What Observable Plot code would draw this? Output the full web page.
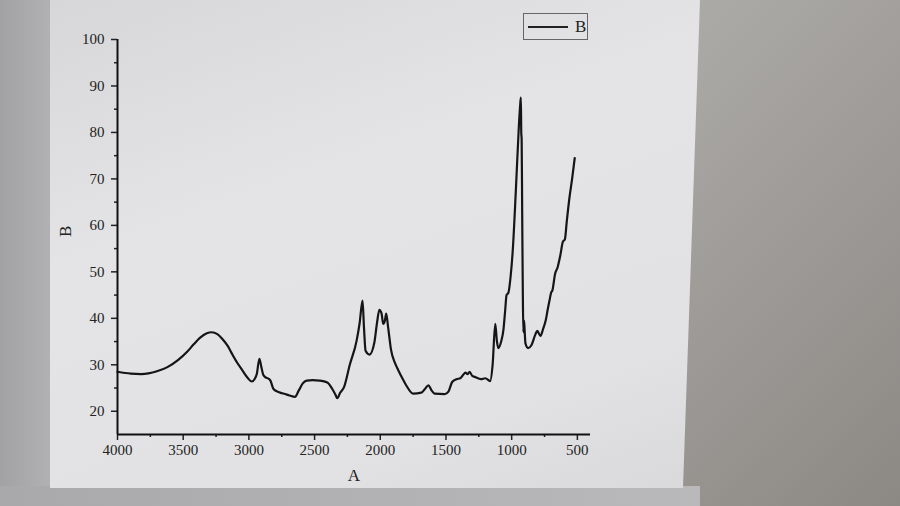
<!DOCTYPE html>
<html>
<head>
<meta charset="utf-8">
<script src="https://cdn.jsdelivr.net/npm/d3@7"></script>
<script src="https://cdn.jsdelivr.net/npm/@observablehq/plot@0.6"></script>
<style>
  html, body { margin: 0; padding: 0; }
  body { width: 900px; height: 506px; overflow: hidden; }
  #stage { position: relative; width: 900px; height: 506px; overflow: hidden;
    background: linear-gradient(135deg, #c3c1be 0%, #a9a7a3 55%, #8c8985 100%); }
  #leftstrip { position: absolute; left: 0; top: 0; width: 60px; height: 506px;
    background: linear-gradient(90deg, #a2a2a4, #b4b4b6); }
  #bottomstrip { position: absolute; left: 0; top: 486px; width: 700px; height: 20px;
    background: linear-gradient(90deg, #a9a9ab, #b9b9bb); }
  #panel { position: absolute; left: 0; top: 0; width: 900px; height: 506px;
    clip-path: polygon(50px 0, 700px 0, 683px 488px, 50px 488px);
    background: linear-gradient(160deg, #d6d6d8 0%, #e4e4e6 35%, #e2e2e4 70%, #d4d4d6 100%); }
  #chart { position: absolute; left: 0; top: 0; }
  #legend { position: absolute; left: 523px; top: 13px; width: 65px; height: 27px;
    border: 1px solid #666; box-sizing: border-box;
    font-family: "Liberation Serif", serif; font-size: 17px; color: #222; }
  #legend .ln { position: absolute; left: 4px; top: 12px; width: 40px; height: 2px; background: #222; }
  #legend .lb { position: absolute; left: 51px; top: 3px; }
</style>
</head>
<body>
<div id="stage">
  <div id="leftstrip"></div>
  <div id="bottomstrip"></div>
  <div id="panel"></div>
  <div id="chart"></div>
  <div id="legend"><div class="ln"></div><span class="lb">B</span></div>
</div>
<script>
const wavenumber = [
  4000, 3900, 3820, 3700, 3620, 3540, 3470, 3420, 3373, 3320,
  3284, 3240, 3200, 3160, 3127, 3090, 3052, 3010, 2978, 2955,
  2940, 2920, 2905, 2890, 2873, 2850, 2836, 2813, 2770, 2724,
  2690, 2650, 2620, 2590, 2560, 2515, 2460, 2403, 2365, 2340,
  2328, 2305, 2276, 2232, 2180, 2157, 2135, 2124, 2112, 2082,
  2045, 2025, 2007, 1990, 1978, 1965, 1955, 1940, 1918, 1890,
  1864, 1830, 1803, 1750, 1688, 1660, 1634, 1610, 1587, 1510,
  1480, 1453, 1420, 1391, 1370, 1352, 1335, 1320, 1300, 1281,
  1234, 1200, 1164, 1145, 1125, 1112, 1102, 1080, 1062, 1050,
  1039, 1025, 1008, 992, 969, 945, 935, 930, 927, 924,
  920, 915, 911, 906, 902, 895, 875, 850, 820, 805,
  781, 760, 742, 725, 711, 700, 690, 670, 650, 630,
  610, 595, 580, 560, 540, 520
];
const transmittance = [
  28.5, 28.1, 28.0, 28.6, 29.5, 31.0, 32.8, 34.4, 35.8, 36.8,
  37.0, 36.6, 35.5, 34.0, 32.3, 30.5, 28.9, 27.2, 26.4, 27.0,
  28.0, 31.3, 29.5, 27.8, 27.3, 27.0, 26.6, 24.8, 24.1, 23.7,
  23.4, 23.1, 24.5, 26.0, 26.6, 26.7, 26.6, 26.2, 24.8, 23.5,
  22.8, 24.0, 25.2, 30.0, 35.2, 39.0, 43.8, 38.0, 33.0, 32.2,
  34.8, 39.0, 41.8, 41.0, 38.8, 39.5, 41.0, 38.0, 33.2, 30.5,
  28.9, 27.0, 25.6, 23.8, 24.0, 24.8, 25.6, 24.5, 23.8, 23.7,
  24.3, 26.3, 26.9, 27.1, 27.8, 28.3, 28.0, 28.5, 27.6, 27.4,
  26.9, 27.1, 26.5, 30.0, 38.8, 35.0, 33.6, 35.0, 37.7, 41.5,
  45.0, 45.5, 49.0, 54.5, 67.0, 81.5, 86.0, 87.5, 80.0, 78.5,
  63.0, 45.0, 37.0, 39.5, 37.8, 34.6, 33.6, 34.2, 36.5, 37.3,
  36.2, 37.8, 39.4, 42.0, 44.0, 45.5, 46.0, 49.5, 51.0, 53.5,
  56.5, 57.0, 61.0, 66.0, 70.0, 74.5
];
const xTicks = [4000, 3500, 3000, 2500, 2000, 1500, 1000, 500];
const xMinorTicks = [3750, 3250, 2750, 2250, 1750, 1250, 750];
const yTicks = [20, 30, 40, 50, 60, 70, 80, 90, 100];
const yMinorTicks = [25, 35, 45, 55, 65, 75, 85, 95];
const xLabel = "A";
const yLabel = "B";

const data = wavenumber.map((w, i) => ({w, t: transmittance[i]}));

const chart = Plot.plot({
  width: 900,
  height: 506,
  marginLeft: 117,
  marginRight: 310,
  marginTop: 39,
  marginBottom: 72,
  style: {background: "transparent", fontFamily: "'Liberation Serif', serif", fontSize: "15px", color: "#222"},
  x: {domain: [4000, 400]},
  y: {domain: [15, 100]},
  marks: [
    Plot.axisX(xTicks, {tickSize: 6, tickPadding: 4, strokeWidth: 1.5, label: null, fontSize: 15, tickFormat: d3.format("d")}),
    Plot.axisX(xMinorTicks, {tickSize: 3, text: null, strokeWidth: 1.5, label: null}),
    Plot.axisY(yTicks, {tickSize: 6, tickPadding: 7, strokeWidth: 1.5, label: null, fontSize: 15, tickFormat: d3.format("d")}),
    Plot.axisY(yMinorTicks, {tickSize: 3, text: null, strokeWidth: 1.5, label: null}),
    Plot.ruleY([15], {stroke: "#111", strokeWidth: 2}),
    Plot.ruleX([4000], {y1: 15, y2: 100, stroke: "#111", strokeWidth: 2}),
    Plot.line(data, {x: "w", y: "t", stroke: "#151515", strokeWidth: 2.2, curve: "monotone-x"}),
    Plot.text([xLabel], {frameAnchor: "bottom", dy: 46, text: d => d, fontSize: 17}),
    Plot.text([yLabel], {frameAnchor: "left", dx: -52, rotate: -90, text: d => d, fontSize: 17})
  ]
});
document.getElementById("chart").appendChild(chart);
</script>
</body>
</html>
